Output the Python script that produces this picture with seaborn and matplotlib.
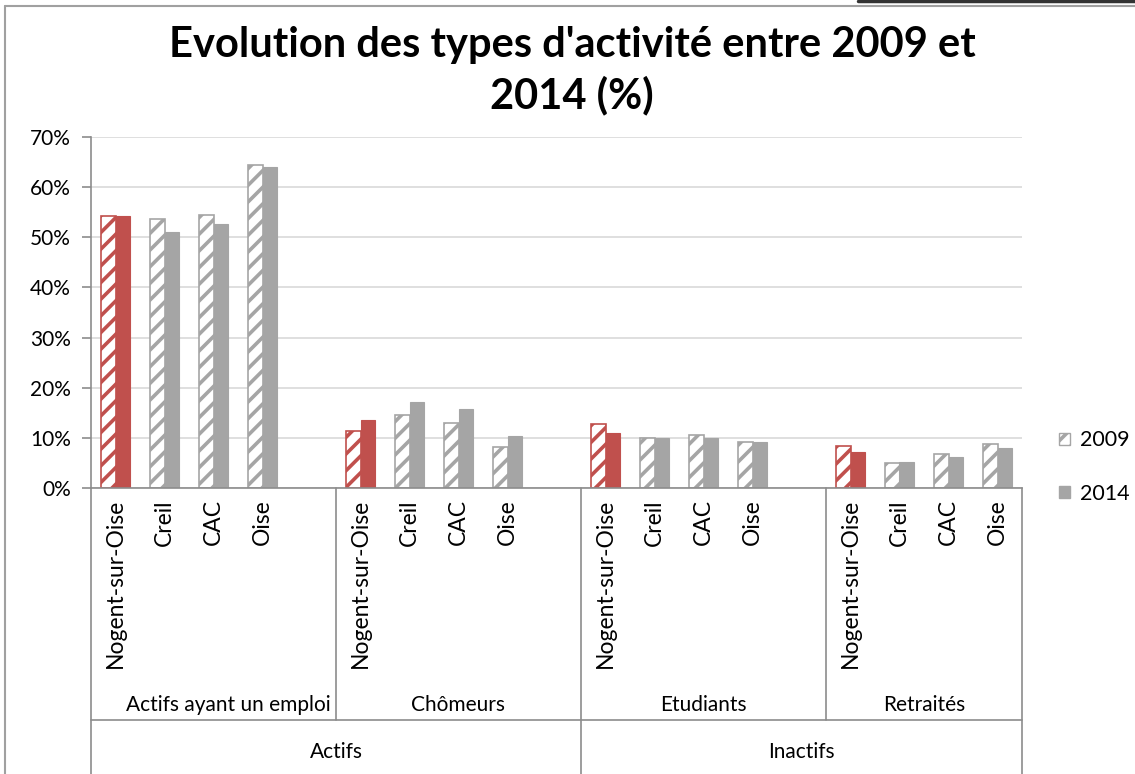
import seaborn as sns
import pandas as pd
import matplotlib.pyplot as plt
import matplotlib.patches as mpatches
import matplotlib.lines as mlines
import matplotlib.transforms as mtrans
from matplotlib.ticker import PercentFormatter

# Data (%)
groups = ["Actifs ayant un emploi", "Chômeurs", "Etudiants", "Retraités"]
towns = ["Nogent-sur-Oise", "Creil", "CAC", "Oise"]
supergroups = ["Actifs", "Inactifs"]
years = ["2009", "2014"]
v2009 = [54.2, 53.6, 54.4, 64.5, 11.4, 14.6, 13.0, 8.2,
         12.7, 9.9, 10.6, 9.2, 8.4, 5.0, 6.8, 8.8]
v2014 = [54.2, 51.1, 52.6, 64.1, 13.6, 17.1, 15.8, 10.4,
         11.0, 9.9, 10.0, 9.2, 7.1, 5.2, 6.2, 8.0]

RED = "#C0504D"
GREY = "#A5A5A5"
LINE = "#8C8C8C"

sns.set_style("white")
plt.rcParams['font.family'] = ['Lato', 'DejaVu Sans']
plt.rcParams['text.color'] = 'black'
plt.rcParams['xtick.color'] = 'black'
plt.rcParams['ytick.color'] = 'black'
plt.rcParams['hatch.linewidth'] = 2.6

# build slots: each group of towns followed by an empty slot
order = []
tick_labels = []
rows = []
for gi, g in enumerate(groups):
    for ti, t in enumerate(towns):
        key = g + "|" + t
        order.append(key)
        tick_labels.append(t)
        k = gi * len(towns) + ti
        rows.append({"slot": key, "town": t, "year": "2009", "value": v2009[k] / 100})
        rows.append({"slot": key, "town": t, "year": "2014", "value": v2014[k] / 100})
    if gi < len(groups) - 1:
        order.append("gap%d" % gi)
        tick_labels.append("")
df = pd.DataFrame(rows)

fig = plt.figure(figsize=(11.35, 7.74), dpi=100)
ax = fig.add_axes([91 / 1135, 1 - 488 / 774, (1022 - 91) / 1135, 351 / 774])

sns.barplot(data=df, x="slot", y="value", hue="year", order=order,
            hue_order=years, width=0.6, ax=ax, legend=False, errorbar=None)

# recolour each bar: Nogent red, the rest grey; 2009 hatched
for ci, cont in enumerate(ax.containers):
    for bar in cont:
        idx = int(round(bar.get_x() + bar.get_width() / 2))
        town = order[idx].split("|")[-1]
        col = RED if town == "Nogent-sur-Oise" else GREY
        if ci == 0:
            bar.set_facecolor("white")
            bar.set_edgecolor(col)
            bar.set_hatch("//")
            bar.set_linewidth(1.2)
        else:
            bar.set_facecolor(col)
            bar.set_edgecolor(col)
            bar.set_linewidth(0.8)

ax.set_xlim(-0.5, len(order) - 0.5)
ax.set_ylim(0, 0.7)
ax.set_yticks([i / 10 for i in range(8)])
ax.yaxis.set_major_formatter(PercentFormatter(1.0, decimals=0))
ax.grid(axis="y", color="#D9D9D9", linewidth=1.2)
ax.set_axisbelow(True)
ax.set_xlabel("")
ax.set_ylabel("")
ax.set_xticks(range(len(order)))
ax.set_xticklabels(tick_labels, rotation=90, fontsize=16.5, va="top")
ax.tick_params(axis="x", length=0, pad=8)
ax.tick_params(axis="y", length=6.5, width=1.2, color=LINE, left=True,
               labelsize=15, pad=8)
for s in ["top", "right"]:
    ax.spines[s].set_visible(False)
ax.spines["left"].set_color(LINE)
ax.spines["bottom"].set_color(LINE)
ax.spines["left"].set_linewidth(1.2)
ax.spines["bottom"].set_linewidth(1.2)

# category separators and labels under the axis
trans = mtrans.blended_transform_factory(ax.transData, ax.transAxes)
bounds = [-0.5, 4.5, 9.5, 14.5, len(order) - 0.5]
for i, b in enumerate(bounds):
    low = -0.66 if i in (1, 3) else -0.9
    ax.plot([b, b], [0, low], color=LINE, lw=1.2, transform=trans, clip_on=False)
ax.plot([bounds[0], bounds[-1]], [-0.66, -0.66], color=LINE, lw=1.2,
        transform=trans, clip_on=False)
for gi, g in enumerate(groups):
    mid = (bounds[gi] + bounds[gi + 1]) / 2
    if gi == 0:
        mid += 0.3
    ax.text(mid, -0.618, g, ha="center", va="center", fontsize=15,
            transform=trans)
ax.text((bounds[0] + bounds[2]) / 2, -0.752, supergroups[0], ha="center",
        va="center", fontsize=15, transform=trans)
ax.text((bounds[2] + bounds[4]) / 2, -0.752, supergroups[1], ha="center",
        va="center", fontsize=15, transform=trans)

# legend
h2009 = mpatches.Patch(facecolor="white", edgecolor=GREY, hatch="//", label="2009")
h2014 = mpatches.Patch(facecolor=GREY, edgecolor=GREY, label="2014")
fig.legend(handles=[h2009, h2014], loc="center left",
           bbox_to_anchor=(1040 / 1135, 1 - 467 / 774), frameon=False,
           fontsize=15.5, handlelength=0.5, handleheight=0.5,
           handletextpad=0.45, labelspacing=1.55)

fig.text(572 / 1135, 1 - 71 / 774,
         "Evolution des types d'activité entre 2009 et\n2014 (%)",
         ha="center", va="center", fontsize=30, fontweight="bold",
         linespacing=1.36)

# outer chart border (left and top), plus dark strip at the top right
fig.add_artist(mlines.Line2D([5 / 1135, 5 / 1135], [0, 1 - 6 / 774],
                             transform=fig.transFigure, color="#A0A0A0", lw=1.5))
fig.add_artist(mlines.Line2D([5 / 1135, 1], [1 - 6 / 774, 1 - 6 / 774],
                             transform=fig.transFigure, color="#A0A0A0", lw=1.5))
fig.add_artist(mlines.Line2D([858 / 1135, 1], [1 - 1 / 774, 1 - 1 / 774],
                             transform=fig.transFigure, color="#333333", lw=2.5))

fig.savefig("out.png", dpi=100)
